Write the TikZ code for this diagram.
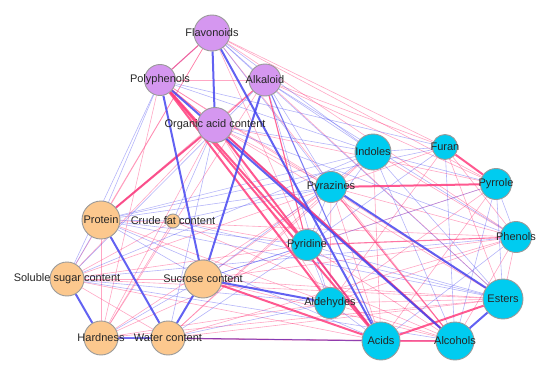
\documentclass[tikz,border=0pt]{standalone}
\usepackage{fontspec}
\setmainfont{Liberation Sans}
\usetikzlibrary{backgrounds}
\definecolor{purp}{HTML}{D597F0}
\definecolor{oran}{HTML}{FCC88E}
\definecolor{cyan2}{HTML}{00CCF0}
\definecolor{pinkE}{HTML}{FF3C7C}
\definecolor{blueE}{HTML}{4646F0}
\definecolor{rimg}{HTML}{9A9A9A}
\begin{document}
\begin{tikzpicture}[x=1pt,y=-1pt,
  vtx/.style={circle,draw=rimg,line width=0.9pt,inner sep=0pt,minimum size=#1},
  lbl/.style={font=\fontsize{11}{12}\selectfont,text=black!85,inner sep=0pt},
  pk/.style={draw=pinkE,line width=0.6pt,opacity=0.45},
  bl/.style={draw=blueE,line width=0.6pt,opacity=0.4},
  pkM/.style={draw=pinkE,line width=1.1pt,opacity=0.7},
  blM/.style={draw=blueE,line width=1.1pt,opacity=0.7},
  pkT/.style={draw=pinkE,line width=2pt,opacity=0.85},
  blT/.style={draw=blueE,line width=2pt,opacity=0.85},
  pu/.style={draw=violet!70!blueE,line width=1pt,opacity=0.7}]
\useasboundingbox (0,0) rectangle (550,372);
% nodes
\node[vtx=36pt,fill=purp] (fla) at (212,33) {};
\node[vtx=31pt,fill=purp] (pol) at (160,80) {};
\node[vtx=32pt,fill=purp] (alk) at (265,80) {};
\node[vtx=35pt,fill=purp] (org) at (215,125) {};
\node[vtx=38pt,fill=oran] (pro) at (101,220) {};
\node[vtx=14pt,fill=oran] (cru) at (173,221) {};
\node[vtx=34pt,fill=oran] (sol) at (67,279) {};
\node[vtx=38pt,fill=oran] (suc) at (203,279) {};
\node[vtx=34pt,fill=oran] (har) at (101,338) {};
\node[vtx=34pt,fill=oran] (wat) at (168,338) {};
\node[vtx=36pt,fill=cyan2] (ind) at (373,152) {};
\node[vtx=25pt,fill=cyan2] (fur) at (445,147) {};
\node[vtx=31pt,fill=cyan2] (pyz) at (331,187) {};
\node[vtx=31pt,fill=cyan2] (pyr) at (496,184) {};
\node[vtx=31pt,fill=cyan2] (phe) at (516,237) {};
\node[vtx=31pt,fill=cyan2] (pyd) at (307,245) {};
\node[vtx=40pt,fill=cyan2] (est) at (503,299) {};
\node[vtx=31pt,fill=cyan2] (ald) at (330,303) {};
\node[vtx=38pt,fill=cyan2] (aci) at (381,341) {};
\node[vtx=38pt,fill=cyan2] (alc) at (455,341) {};
% labels
\node[lbl] (tfla) at (fla) {Flavonoids};
\node[lbl] (tpol) at (pol) {Polyphenols};
\node[lbl] (talk) at (alk) {Alkaloid};
\node[lbl] (torg) at (org) {Organic acid content};
\node[lbl] (tpro) at (pro) {Protein};
\node[lbl] (tcru) at (cru) {Crude fat content};
\node[lbl] (tsol) at (sol) {Soluble sugar content};
\node[lbl] (tsuc) at (suc) {Sucrose content};
\node[lbl] (thar) at (har) {Hardness};
\node[lbl] (twat) at (wat) {Water content};
\node[lbl] (tind) at (ind) {Indoles};
\node[lbl] (tfur) at (fur) {Furan};
\node[lbl] (tpyz) at (pyz) {Pyrazines};
\node[lbl] (tpyr) at (pyr) {Pyrrole};
\node[lbl] (tphe) at (phe) {Phenols};
\node[lbl] (tpyd) at (pyd) {Pyridine};
\node[lbl] (test) at (est) {Esters};
\node[lbl] (tald) at (ald) {Aldehydes};
\node[lbl] (taci) at (aci) {Acids};
\node[lbl] (talc) at (alc) {Alcohols};
\begin{pgfonlayer}{background}
% thin pink
\foreach \a/\b in {fla/fur,fla/pyr,fla/phe,fla/pyd,fla/sol,fla/alc,fla/pro,
  pol/alk,pol/pyz,pol/har,pol/est,
  alk/fur,alk/pyr,alk/est,alk/pyd,alk/pro,alk/har,
  org/pyz,org/est,org/pyr,org/har,org/sol,org/ald,
  pro/ald,pro/phe,pro/har,
  cru/pyd,cru/alc,cru/har,cru/sol,
  sol/suc,sol/wat,sol/pyd,sol/aci,sol/est,sol/pyz,
  suc/pyz,suc/est,suc/alc,suc/phe,
  har/pyd,har/aci,har/est,har/pyz,har/ald,
  wat/pyz,wat/est,wat/alc,wat/phe,wat/ind,
  ind/pyz,ind/phe,ind/aci,
  fur/pyz,fur/est,fur/phe,fur/ald,
  pyz/aci,pyz/ald,pyz/phe,
  pyr/pyd,pyr/aci,pyr/ald,
  phe/ald,phe/est,phe/alc,
  pyd/alc,est/ald,ald/alc}
  \draw[pk] (\a) -- (\b);
% thin blue
\foreach \a/\b in {fla/ind,fla/pyz,fla/est,fla/alk,fla/pol,
  pol/ind,pol/sol,pol/pro,pol/fur,
  alk/ind,alk/pyz,alk/phe,alk/sol,alk/ald,
  org/ind,org/phe,org/wat,org/pro,org/cru,
  pro/ind,pro/pyz,pro/pyd,pro/aci,pro/est,pro/fur,pro/cru,pro/suc,pro/sol,
  cru/pyz,cru/est,
  sol/ald,sol/alc,sol/ind,sol/phe,
  suc/pyd,suc/ind,suc/har,suc/pyr,
  har/alc,
  wat/pyd,wat/ald,
  ind/fur,ind/pyr,ind/est,ind/alc,ind/pyd,
  fur/pyd,fur/alc,
  pyz/pyd,
  pyr/phe,pyr/est,pyr/alc,
  phe/aci,pyd/ald,pyd/est,ald/aci}
  \draw[bl] (\a) -- (\b);
% medium
\foreach \a/\b in {fla/pol,alk/org,pyz/alc,pyd/phe,aci/alc,pol/org,alk/pyd}
  \draw[pkM] (\a) -- (\b);
\foreach \a/\b in {har/wat,pyd/aci,alk/aci,org/alc}
  \draw[blM] (\a) -- (\b);
\draw[pu] (wat) -- (aci);
% thick
\foreach \a/\b in {pro/org,pol/aci,org/alc,pyz/pyr,fur/pyr,suc/aci,aci/est,pol/pyd,org/aci,pol/ald}
  \draw[pkT] (\a) -- (\b);
\foreach \a/\b in {fla/org,fla/aci,pol/suc,alk/suc,pol/alc,pro/wat,sol/har,suc/wat,suc/ald,est/alc,pyz/est}
  \draw[blT] (\a) -- (\b);
\end{pgfonlayer}
\end{tikzpicture}
\end{document}
